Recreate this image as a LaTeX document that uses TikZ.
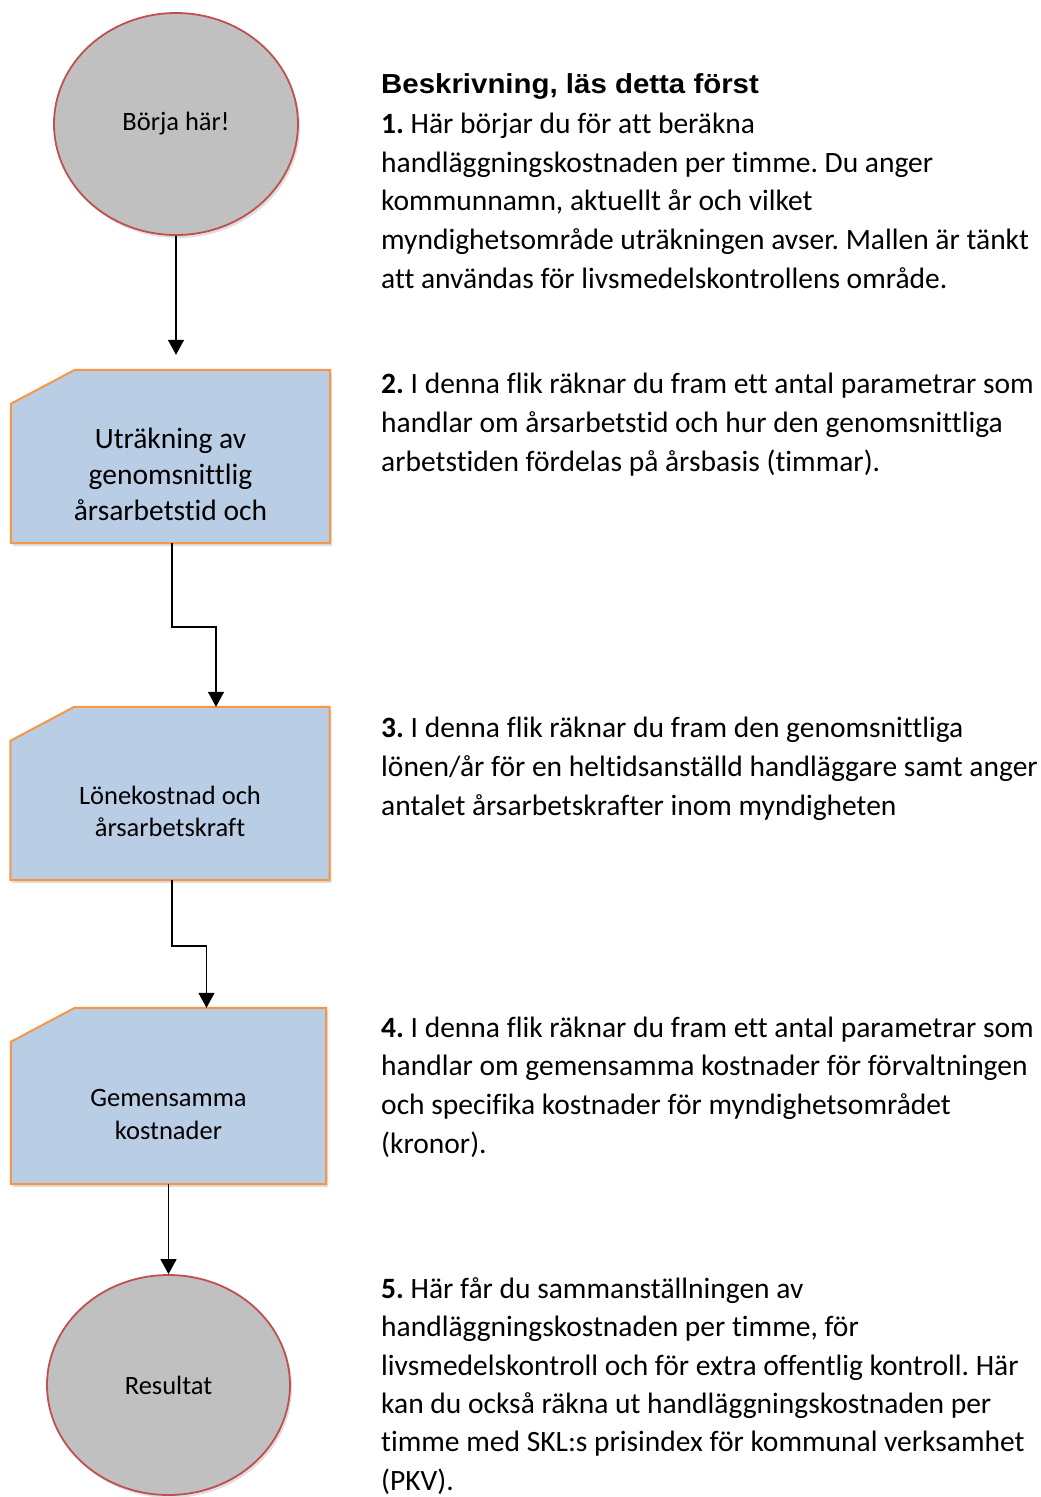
\documentclass[tikz,border=0pt]{standalone}
\usepackage{fontspec}
\setmainfont{Carlito}[Ligatures=NoCommon]
\newfontfamily\headfont{Liberation Sans}[FakeStretch=1.07]
\usetikzlibrary{positioning,shapes.geometric,shadows,arrows.meta,backgrounds}
\definecolor{startfill}{HTML}{C0C0C0}
\definecolor{startline}{HTML}{C0504D}
\definecolor{tabfill}{HTML}{B9CDE5}
\definecolor{tabline}{HTML}{F79646}
\frenchspacing
\tikzset{
  startstop/.style={ellipse, draw=startline, line width=1.8pt, fill=startfill, inner sep=0pt,
    minimum width=244pt, minimum height=222pt, font=\fontsize{26.5}{30}\selectfont,
    drop shadow={shadow xshift=2pt, shadow yshift=-3pt, opacity=0.25}},
  tabbox/.style={rectangle, inner sep=0pt, minimum width=319pt, minimum height=173pt},
  tabtext/.style={align=center, inner sep=0pt, yshift=-18pt},
  tabframe/.style={draw=tabline, line width=2pt, fill=tabfill,
    drop shadow={shadow xshift=2pt, shadow yshift=-3pt, opacity=0.25}},
  flow/.style={draw, line width=1.5pt, -{Triangle[width=16pt,length=15pt]}},
  desc/.style={anchor=base west, align=left, inner sep=0pt, font=\fontsize{29.5}{38.6}\selectfont}
}
% folder-like box with cut top left corner
\newcommand{\tabshape}[1]{\path[tabframe] ([yshift=-34pt]#1.north west) -- ([xshift=64pt]#1.north west)
  -- (#1.north east) -- (#1.south east) -- (#1.south west) -- cycle;}
\begin{document}
\begin{tikzpicture}[x=1pt, y=-1pt]
\useasboundingbox (0,0) rectangle (1041,1497);
% flow chart
\node[startstop] (start) at (176,124) {Börja här!};
\node[tabbox, label={[tabtext, font=\fontsize{29.5}{36}\selectfont]center:{Uträkning av\\genomsnittlig\\årsarbetstid och}}] (calc) at (170.5,456.5) {};
\node[tabbox, label={[tabtext, font=\fontsize{26.5}{32}\selectfont]center:{Lönekostnad och\\årsarbetskraft}}] (salary) at (170,793.5) {};
\node[tabbox, minimum width=315pt, minimum height=176pt, label={[tabtext, font=\fontsize{26.5}{33}\selectfont]center:{Gemensamma\\kostnader}}] (common) at (168.5,1096) {};
\node[startstop, minimum width=243pt, minimum height=220pt] (result) at (168.5,1385) {Resultat};
\begin{scope}[on background layer]
  \tabshape{calc}
  \tabshape{salary}
  \tabshape{common}
\end{scope}

\draw[flow, shorten >=15pt] (start) -- (start |- calc.north);
\draw[flow] ([xshift=1.5pt]calc.south) -- ++(0,84) -| ([xshift=46pt]salary.north);
\draw[flow] ([xshift=2pt]salary.south) -- ++(0,66) -| ([xshift=38pt]common.north);
\draw[flow] (common) -- (result);

% descriptions
\node[anchor=base west, inner sep=0pt, font=\headfont\bfseries\fontsize{27.5}{30}\selectfont] (head) at (381,93) {Beskrivning, läs detta först};
\node[desc] (desc1) at (381,288) {\textbf{1.} Här börjar du för att beräkna\\
handläggningskostnaden per timme. Du anger\\
kommunnamn, aktuellt år och vilket\\
myndighetsområde uträkningen avser. Mallen är tänkt\\
att användas för livsmedelskontrollens område.};
\node[desc] (desc2) at (381,471) {\textbf{2.} I denna flik räknar du fram ett antal parametrar som\\
handlar om årsarbetstid och hur den genomsnittliga\\
arbetstiden fördelas på årsbasis (timmar).};
\node[desc] (desc3) at (381,815) {\textbf{3.} I denna flik räknar du fram den genomsnittliga\\
lönen/år för en heltidsanställd handläggare samt anger\\
antalet årsarbetskrafter inom myndigheten};
\node[desc] (desc4) at (381,1153) {\textbf{4.} I denna flik räknar du fram ett antal parametrar som\\
handlar om gemensamma kostnader för förvaltningen\\
och specifika kostnader för myndighetsområdet\\
(kronor).};
\node[desc, font=\fontsize{29.5}{38.3}\selectfont] (desc5) at (381,1490) {\textbf{5.} Här får du sammanställningen av\\
handläggningskostnaden per timme, för\\
livsmedelskontroll och för extra offentlig kontroll. Här\\
kan du också räkna ut handläggningskostnaden per\\
timme med SKL:s prisindex för kommunal verksamhet\\
(PKV).};
\end{tikzpicture}
\end{document}
